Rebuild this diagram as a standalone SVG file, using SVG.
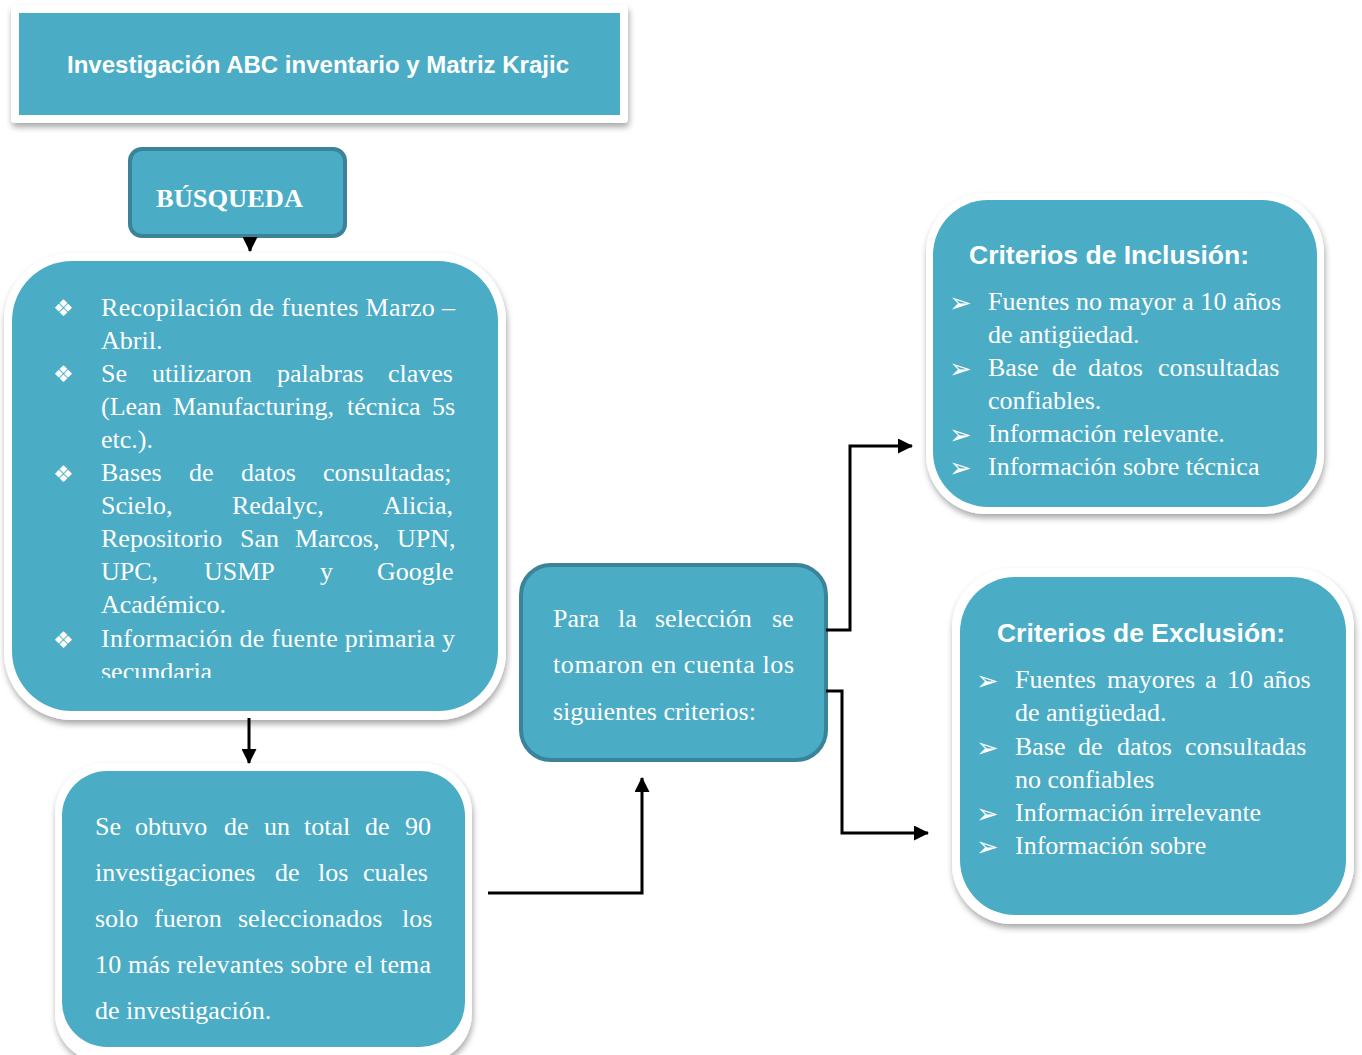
<svg xmlns="http://www.w3.org/2000/svg" width="1362" height="1055" viewBox="0 0 1362 1055">
<defs>
<style>
.teal{fill:#4BACC6}
.frame{fill:#ffffff;filter:url(#sh)}
.dark{fill:#4BACC6;stroke:#3A8399;stroke-width:4}
.serif{font-family:"Liberation Serif","Times New Roman",serif;fill:#ffffff;font-size:26px}
.sans{font-family:"Liberation Sans",Arial,sans-serif;fill:#ffffff;font-weight:bold}
.sym{font-family:"DejaVu Sans",sans-serif;fill:#ffffff}
.conn{fill:none;stroke:#000000;stroke-width:3}
</style>
<filter id="sh" x="-10%" y="-10%" width="120%" height="125%">
<feDropShadow dx="1" dy="4" stdDeviation="3" flood-color="#000000" flood-opacity="0.35"/>
</filter>
<marker id="ah" markerUnits="userSpaceOnUse" markerWidth="15" markerHeight="15" refX="14" refY="7.5" orient="auto">
<path d="M0,0 L15,7.5 L0,15 z" fill="#000000"/>
</marker>
<clipPath id="clipMain"><rect x="12" y="261" width="486" height="417"/></clipPath>
</defs>
<rect width="1362" height="1055" fill="#ffffff"/>

<g id="title">
<rect class="frame" x="11" y="5" width="617" height="118" rx="4"/>
<rect class="teal" x="19" y="13" width="601" height="102"/>
<text class="sans" x="67" y="73" font-size="24" textLength="502" lengthAdjust="spacingAndGlyphs">Investigación ABC inventario y Matriz Krajic</text>
</g>

<g id="busqueda">
<rect class="dark" x="130" y="149" width="215" height="87" rx="12"/>
<text class="serif" x="156" y="207" font-weight="bold" textLength="147" lengthAdjust="spacingAndGlyphs">BÚSQUEDA</text>
</g>

<g id="busqueda-detalle">
<rect class="frame" x="4" y="253" width="502" height="467" rx="68"/>
<rect class="teal" x="12" y="261" width="486" height="450" rx="60"/>
<g class="sym" font-size="23">
<text x="53" y="316">❖</text>
<text x="53" y="382">❖</text>
<text x="53" y="482">❖</text>
<text x="53" y="648">❖</text>
</g>
<g class="serif" clip-path="url(#clipMain)">
<text x="101" y="316" textLength="354" lengthAdjust="spacing">Recopilación de fuentes Marzo –</text>
<text x="101" y="349">Abril.</text>
<text y="382"><tspan x="101">Se</tspan><tspan x="152">utilizaron</tspan><tspan x="277">palabras</tspan><tspan x="388">claves</tspan></text>
<text y="415"><tspan x="101">(Lean</tspan><tspan x="173">Manufacturing,</tspan><tspan x="347">técnica</tspan><tspan x="432">5s</tspan></text>
<text x="101" y="448">etc.).</text>
<text y="481"><tspan x="101">Bases</tspan><tspan x="189">de</tspan><tspan x="241">datos</tspan><tspan x="323">consultadas;</tspan></text>
<text y="514"><tspan x="101">Scielo,</tspan><tspan x="232">Redalyc,</tspan><tspan x="383">Alicia,</tspan></text>
<text y="547"><tspan x="101">Repositorio</tspan><tspan x="240">San</tspan><tspan x="295">Marcos,</tspan><tspan x="397">UPN,</tspan></text>
<text y="580"><tspan x="101">UPC,</tspan><tspan x="204">USMP</tspan><tspan x="320">y</tspan><tspan x="377">Google</tspan></text>
<text x="101" y="613">Académico.</text>
<text x="101" y="647" textLength="354" lengthAdjust="spacing">Información de fuente primaria y</text>
<text x="101" y="680">secundaria</text>
</g>
</g>

<g id="resultado">
<rect class="frame" x="55" y="763" width="417" height="300" rx="50"/>
<rect class="teal" x="62" y="771" width="403" height="276" rx="45"/>
<g class="serif">
<text y="835"><tspan x="95">Se</tspan><tspan x="135">obtuvo</tspan><tspan x="224">de</tspan><tspan x="264">un</tspan><tspan x="304">total</tspan><tspan x="365">de</tspan><tspan x="405">90</tspan></text>
<text y="881"><tspan x="95">investigaciones</tspan><tspan x="275">de</tspan><tspan x="318">los</tspan><tspan x="363">cuales</tspan></text>
<text y="927"><tspan x="95">solo</tspan><tspan x="154">fueron</tspan><tspan x="238">seleccionados</tspan><tspan x="402">los</tspan></text>
<text x="95" y="973" textLength="336" lengthAdjust="spacing">10 más relevantes sobre el tema</text>
<text x="95" y="1019">de investigación.</text>
</g>
</g>

<g id="seleccion">
<rect class="dark" x="521" y="565" width="305" height="195" rx="30"/>
<g class="serif">
<text y="627"><tspan x="553">Para</tspan><tspan x="618">la</tspan><tspan x="655">selección</tspan><tspan x="772">se</tspan></text>
<text x="553" y="673" textLength="241" lengthAdjust="spacing">tomaron en cuenta los</text>
<text x="553" y="720">siguientes criterios:</text>
</g>
</g>

<g id="inclusion">
<rect class="frame" x="926" y="193" width="398" height="321" rx="60"/>
<rect class="teal" x="933" y="200" width="384" height="307" rx="55"/>
<text class="sans" x="969" y="264" font-size="26" textLength="280" lengthAdjust="spacingAndGlyphs">Criterios de Inclusión:</text>
<g class="sym" font-size="27">
<text x="949" y="312">➢</text>
<text x="949" y="378">➢</text>
<text x="949" y="444">➢</text>
<text x="949" y="477">➢</text>
</g>
<g class="serif">
<text x="988" y="310" textLength="293" lengthAdjust="spacing">Fuentes no mayor a 10 años</text>
<text x="988" y="343">de antigüedad.</text>
<text y="376"><tspan x="988">Base</tspan><tspan x="1052">de</tspan><tspan x="1088">datos</tspan><tspan x="1158">consultadas</tspan></text>
<text x="988" y="409">confiables.</text>
<text x="988" y="442">Información relevante.</text>
<text x="988" y="475">Información sobre técnica</text>
</g>
</g>

<g id="exclusion">
<rect class="frame" x="952" y="568" width="402" height="356" rx="60"/>
<rect class="teal" x="960" y="577" width="386" height="338" rx="55"/>
<text class="sans" x="997" y="642" font-size="26" textLength="288" lengthAdjust="spacingAndGlyphs">Criterios de Exclusión:</text>
<g class="sym" font-size="27">
<text x="976" y="690">➢</text>
<text x="976" y="757">➢</text>
<text x="976" y="823">➢</text>
<text x="976" y="856">➢</text>
</g>
<g class="serif">
<text y="688"><tspan x="1015">Fuentes</tspan><tspan x="1107">mayores</tspan><tspan x="1205">a</tspan><tspan x="1227">10</tspan><tspan x="1263">años</tspan></text>
<text x="1015" y="721">de antigüedad.</text>
<text y="755"><tspan x="1015">Base</tspan><tspan x="1078">de</tspan><tspan x="1117">datos</tspan><tspan x="1185">consultadas</tspan></text>
<text x="1015" y="788">no confiables</text>
<text x="1015" y="821">Información irrelevante</text>
<text x="1015" y="854">Información sobre</text>
</g>
</g>

<g id="connectors">
<path class="conn" d="M250,237 V251" marker-end="url(#ah)"/>
<path class="conn" d="M249,718 V763" marker-end="url(#ah)"/>
<path class="conn" d="M488,893 H642 V778" marker-end="url(#ah)"/>
<path class="conn" d="M826,630 H850 V446 H912" marker-end="url(#ah)"/>
<path class="conn" d="M826,691 H842 V833 H928" marker-end="url(#ah)"/>
</g>
</svg>
